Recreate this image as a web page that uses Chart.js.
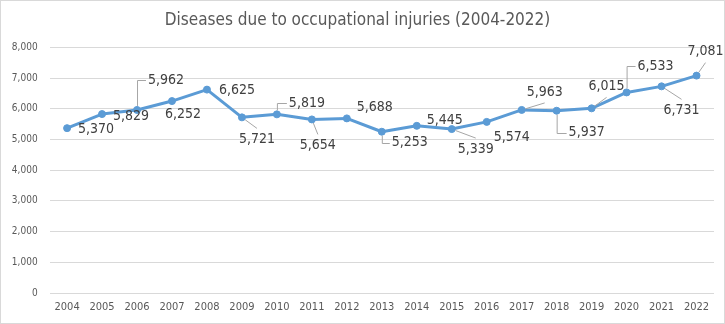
<!DOCTYPE html>
<html>
<head>
<meta charset="utf-8">
<title>Diseases due to occupational injuries</title>
<script src="https://cdn.jsdelivr.net/npm/chart.js@4.4.1/dist/chart.umd.min.js"></script>
<style>
  html, body { margin: 0; padding: 0; background: #fff; }
  #wrap { width: 725px; height: 324px; box-sizing: border-box; border: 1px solid #d9d9d9; }
  canvas { display: block; }
</style>
</head>
<body>
<div id="wrap"><canvas id="injuryChart" width="723" height="322"></canvas></div>
<script>
// yearly counts
const years = ['2004', '2005', '2006', '2007', '2008', '2009', '2010', '2011', '2012', '2013',
               '2014', '2015', '2016', '2017', '2018', '2019', '2020', '2021', '2022'];
const cases = [5370, 5829, 5962, 6252, 6625, 5721, 5819, 5654, 5688, 5253,
               5445, 5339, 5574, 5963, 5937, 6015, 6533, 6731, 7081];
const yMin = 0;
const yMax = 8000;
const yStep = 1000;

const FONT = "'DejaVu Sans Condensed', 'Liberation Sans', sans-serif";
const LINE_BLUE = '#5b9bd5';

// label placement: [dx, dy, leader] from the point; leader 0 none, 1 elbow, 2 straight
const labelSpots = [
    [29, 1, 0], [29, 2, 0], [29, -30, 1], [11, 13, 0], [30, 1, 0],
    [15, 22, 2], [30, -11, 1], [6, 26, 2], [28, -11, 0], [28, 11, 1],
    [28, -5, 0], [24, 20, 2], [25, 15, 0], [23, -18, 2], [30, 22, 1],
    [15, -22, 2], [29, -26, 1], [20, 24, 2], [9, -24, 2]
];

const valueLabels = {
    id: 'valueLabels',
    afterDatasetsDraw(chart) {
        const ctx = chart.ctx;
        const meta = chart.getDatasetMeta(0);
        ctx.save();
        ctx.font = '14px ' + FONT;
        ctx.textAlign = 'center';
        ctx.textBaseline = 'middle';
        meta.data.forEach((pt, i) => {
            const text = cases[i].toLocaleString('en-US');
            const [dx, dy, leader] = labelSpots[i];
            const lx = pt.x + dx, ly = pt.y + dy;
            const w = ctx.measureText(text).width;
            const left = lx - w / 2 - 2;

            if (leader) {
                ctx.strokeStyle = '#a6a6a6';
                ctx.lineWidth = 1;
                ctx.beginPath();
                if (leader === 1) {
                    // up/down from the marker, then across to the label
                    const sy = pt.y + (dy < 0 ? -4 : 4);
                    ctx.moveTo(pt.x + 0.5, sy);
                    ctx.lineTo(pt.x + 0.5, Math.round(ly) + 0.5);
                    ctx.lineTo(left, Math.round(ly) + 0.5);
                } else {
                    // straight to just short of the label's top or bottom
                    const ex = lx;
                    const ey = dy > 0 ? ly - 11 : ly + 11;
                    const len = Math.hypot(ex - pt.x, ey - pt.y) || 1;
                    ctx.moveTo(pt.x + (ex - pt.x) / len * 4, pt.y + (ey - pt.y) / len * 4);
                    ctx.lineTo(ex, ey);
                }
                ctx.stroke();
            }

            ctx.fillStyle = '#404040';
            ctx.fillText(text, lx, ly);
        });
        ctx.restore();
    }
};

new Chart(document.getElementById('injuryChart'), {
    type: 'line',
    data: {
        labels: years,
        datasets: [{
            data: cases,
            borderColor: LINE_BLUE,
            backgroundColor: LINE_BLUE,
            borderWidth: 3,
            borderCapStyle: 'round',
            borderJoinStyle: 'round',
            pointRadius: 3.5,
            pointBackgroundColor: LINE_BLUE,
            pointBorderColor: LINE_BLUE,
            pointBorderWidth: 1,
            tension: 0,
            fill: false
        }]
    },
    options: {
        responsive: false,
        animation: false,
        layout: { padding: { left: 0, right: 10, top: 0, bottom: 0 } },
        plugins: {
            legend: { display: false },
            tooltip: { enabled: false },
            title: {
                display: true,
                text: 'Diseases due to occupational injuries (2004-2022)',
                color: '#595959',
                font: { family: FONT, size: 17, weight: 'normal', lineHeight: 1.2 },
                padding: { top: 9, bottom: 17 }
            }
        },
        scales: {
            x: {
                offset: true,
                grid: { display: false, drawTicks: false },
                border: { display: false },
                ticks: {
                    color: '#595959',
                    font: { family: FONT, size: 11 },
                    padding: 8,
                    maxRotation: 0,
                    autoSkip: false
                },
                afterFit(scale) { scale.height = 30; }
            },
            y: {
                min: yMin,
                max: yMax,
                grid: { color: '#d9d9d9', drawTicks: false },
                border: { display: false },
                ticks: {
                    stepSize: yStep,
                    color: '#595959',
                    font: { family: FONT, size: 10 },
                    padding: 12,
                    callback: v => v.toLocaleString('en-US')
                },
                afterFit(scale) { scale.width = 48.6; }
            }
        }
    },
    plugins: [valueLabels]
});
</script>
</body>
</html>
